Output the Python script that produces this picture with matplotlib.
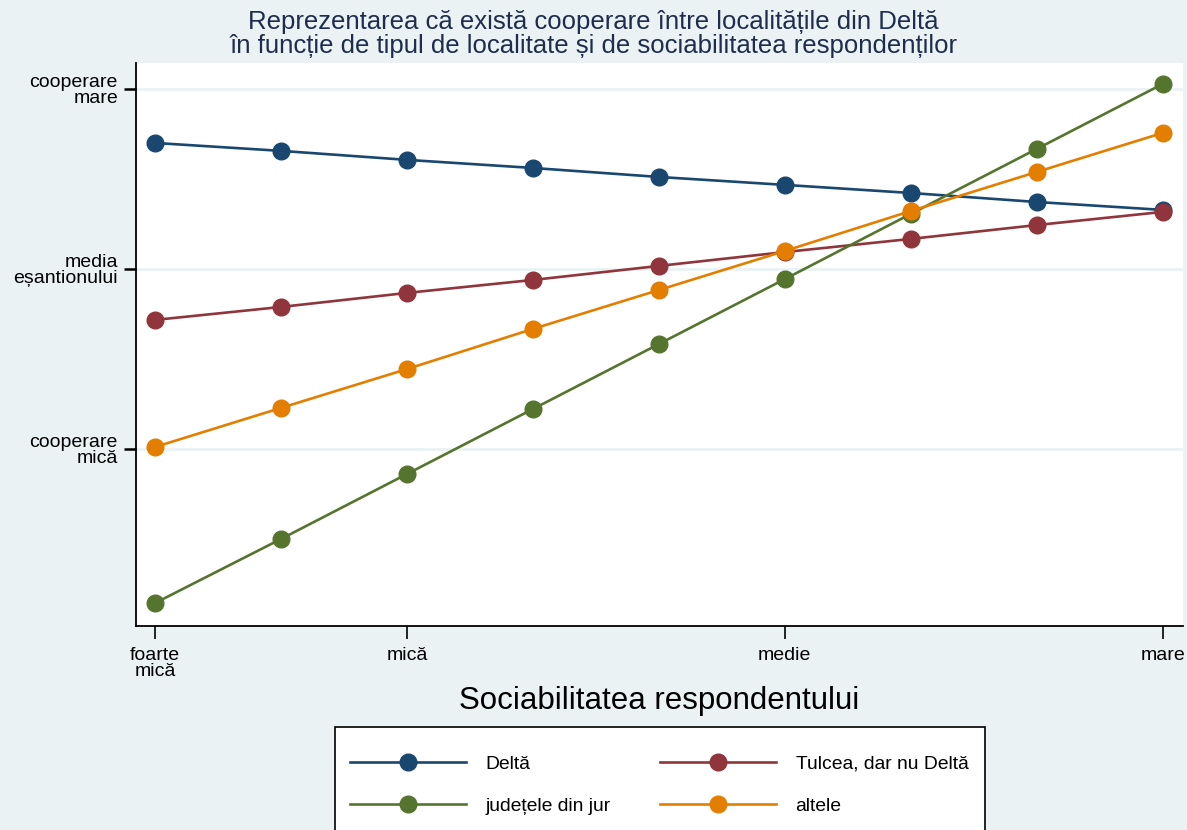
"""
Cooperare intre localitati vs sociabilitatea respondentului (Stata-style line plot).
"""

import matplotlib
matplotlib.use("Agg")
import matplotlib.pyplot as plt
from matplotlib.patches import Rectangle

plt.rcParams["font.family"] = ["Liberation Sans", "DejaVu Sans"]

# sociability steps (0 = foarte mica ... 8 = mare)
x_steps = [0, 1, 2, 3, 4, 5, 6, 7, 8]
x_tick_pos = [0, 2, 5, 8]
x_tick_labels = ["foarte\nmică", "mică", "medie", "mare"]

y_tick_pos = [-1, 0, 1]
y_tick_labels = ["cooperare\nmică", "media\neșantionului", "cooperare\nmare"]

series_names = ["Deltă", "Tulcea, dar nu Deltă", "județele din jur", "altele"]
delta = [0.70, 0.656, 0.606, 0.561, 0.511, 0.467, 0.422, 0.372, 0.328]
tulcea = [-0.283, -0.211, -0.133, -0.061, 0.017, 0.094, 0.167, 0.244, 0.317]
judete = [-1.856, -1.50, -1.139, -0.778, -0.417, -0.056, 0.306, 0.667, 1.028]
altele = [-0.989, -0.772, -0.556, -0.333, -0.117, 0.10, 0.322, 0.539, 0.756]

colors = ["#1a476f", "#90353b", "#55752f", "#e37e00"]
bg = "#eaf2f3"
W, H = 1187, 830

fig = plt.figure(figsize=(W / 100, H / 100), dpi=100, facecolor=bg)
ax = fig.add_axes([136 / W, 1 - 626 / H, (1183 - 136) / W, (626 - 63) / H])
ax.set_facecolor("white")

handles = []
for name, vals, c in zip(series_names, [delta, tulcea, judete, altele], colors):
    h, = ax.plot(x_steps, vals, color=c, lw=1.9, marker="o", ms=12,
                 markeredgecolor=c, label=name)
    handles.append(h)

ax.set_xlim(-0.15, 8.16)
ax.set_ylim(-1.983, 1.144)

ax.set_xticks(x_tick_pos)
ax.set_xticklabels(x_tick_labels, fontsize=14)
ax.set_yticks(y_tick_pos)
ax.set_yticklabels(y_tick_labels, fontsize=14, ha="right")
ax.tick_params(axis="x", length=9, width=1.2, pad=6, direction="out")
ax.tick_params(axis="y", length=9, width=1.8, pad=4, direction="out")
for lab in ax.get_xticklabels() + ax.get_yticklabels():
    lab.set_linespacing(0.95)

ax.grid(axis="y", color=bg, lw=2)
ax.set_axisbelow(True)

for side in ["top", "right"]:
    ax.spines[side].set_visible(False)
ax.spines["left"].set_linewidth(1.3)
ax.spines["bottom"].set_linewidth(1.3)

ax.set_xlabel("Sociabilitatea respondentului", fontsize=22.5, labelpad=4)

fig.suptitle("Reprezentarea că există cooperare între localitățile din Deltă\n"
             "în funcție de tipul de localitate și de sociabilitatea respondenților",
             fontsize=18.5, color="#1e2d4f", y=0.988, linespacing=1.0)

# legend box runs off the bottom edge, as in the original
fig.patches.append(Rectangle((335 / W, -0.05), (985 - 335) / W, 0.05 + 1 - 727 / H,
                             transform=fig.transFigure, facecolor="white",
                             edgecolor="black", lw=1.2, zorder=1))

# row-major order like the original: (Delta, Tulcea) / (judete, altele)
order = [0, 2, 1, 3]
leg = fig.legend([handles[i] for i in order], [series_names[i] for i in order],
                 loc="upper left", bbox_to_anchor=(350 / W, 1 - 755 / H),
                 ncol=2, fontsize=13.9, handlelength=6.0, handletextpad=1.0,
                 columnspacing=2.6, labelspacing=1.3, borderpad=0,
                 borderaxespad=0, frameon=False)
leg.set_zorder(2)

fig.savefig("out.png", dpi=100, facecolor=bg)
